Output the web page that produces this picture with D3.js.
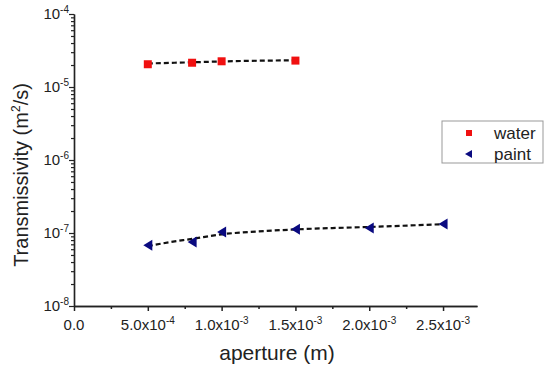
<!DOCTYPE html>
<html><head><meta charset="utf-8">
<script src="https://cdn.jsdelivr.net/npm/d3@7"></script>
<style>
body{margin:0;background:#fff;}
text{font-family:"Liberation Sans",Arial,sans-serif;fill:#222;}
</style></head>
<body><svg id="c" width="550" height="369"></svg>
<script>
const waterX = [5e-4, 8e-4, 1e-3, 1.5e-3];
const waterY = [2.05e-5, 2.15e-5, 2.25e-5, 2.3e-5];
const paintX = [5e-4, 8e-4, 1e-3, 1.5e-3, 2e-3, 2.5e-3];
const paintY = [6.8e-8, 7.5e-8, 1.03e-7, 1.13e-7, 1.17e-7, 1.33e-7];
const waterFitX = [5e-4, 8e-4, 1e-3, 1.5e-3];
const waterFitY = [2.1e-5, 2.18e-5, 2.24e-5, 2.32e-5];
const paintFitX = [5e-4, 6.5e-4, 8e-4, 1e-3, 1.25e-3, 1.5e-3, 2e-3, 2.5e-3];
const paintFitY = [6.6e-8, 7.5e-8, 8.3e-8, 9.6e-8, 1.05e-7, 1.12e-7, 1.21e-7, 1.32e-7];
const xTicks = [0, 5e-4, 1e-3, 1.5e-3, 2e-3, 2.5e-3];
const xTickMant = ["0.0", "5.0x10", "1.0x10", "1.5x10", "2.0x10", "2.5x10"];
const xTickExp = ["", "-4", "-3", "-3", "-3", "-3"];
const yTicks = [1e-8, 1e-7, 1e-6, 1e-5, 1e-4];
const yTickExp = ["-8", "-7", "-6", "-5", "-4"];
const seriesNames = ["water", "paint"];

const svg = d3.select("#c");
const x = d3.scaleLinear().domain([0, 2.73e-3]).range([74, 477]);
const y = d3.scaleLog().domain([1e-8, 1e-4]).range([306, 14]);

const yMinor = [];
for (let e = -8; e < -4; e++) for (let k = 2; k <= 9; k++) yMinor.push(k * Math.pow(10, e));
const xMinor = [];
for (let v = 2.5e-4; v < 2.73e-3; v += 5e-4) xMinor.push(v);

const gx = svg.append("g").attr("transform", "translate(0,306)");
gx.call(d3.axisBottom(x).tickValues(xTicks).tickSize(5).tickFormat("").tickSizeOuter(0));
gx.append("g").call(d3.axisBottom(x).tickValues(xMinor).tickSize(3).tickFormat("").tickSizeOuter(0));
gx.selectAll("path,line").attr("stroke", "#222").attr("stroke-width", 1.5);

const gy = svg.append("g").attr("transform", "translate(74,0)");
gy.call(d3.axisLeft(y).tickValues(yTicks).tickSize(5).tickFormat("").tickSizeOuter(0));
gy.append("g").call(d3.axisLeft(y).tickValues(yMinor).tickSize(3).tickFormat("").tickSizeOuter(0));
gy.selectAll("path,line").attr("stroke", "#222").attr("stroke-width", 1.2);
gy.select("path.domain").attr("stroke-width", 1.5);

xTicks.forEach((v, i) => {
  const t = svg.append("text").attr("x", x(v)).attr("y", 330).attr("text-anchor", "middle").attr("font-size", 15);
  t.append("tspan").text(xTickMant[i]);
  if (xTickExp[i]) t.append("tspan").attr("dy", -6).attr("font-size", 10).text(xTickExp[i]);
});
yTicks.forEach((v, i) => {
  const t = svg.append("text").attr("x", 69).attr("y", y(v) + 5).attr("text-anchor", "end").attr("font-size", 15);
  t.append("tspan").text("10");
  t.append("tspan").attr("dy", -6).attr("font-size", 10).text(yTickExp[i]);
});

svg.append("text").attr("x", 277).attr("y", 360).attr("text-anchor", "middle").attr("font-size", 21).text("aperture (m)");
const yt = svg.append("text").attr("transform", "translate(28,175) rotate(-90)").attr("text-anchor", "middle").attr("font-size", 20);
yt.append("tspan").text("Transmissivity (m");
yt.append("tspan").attr("dy", -8).attr("font-size", 12).text("2");
yt.append("tspan").attr("dy", 8).text("/s)");

const line = d3.line().x(d => x(d[0])).y(d => y(d[1])).curve(d3.curveMonotoneX);
svg.append("path").datum(waterFitX.map((v, i) => [v, waterFitY[i]])).attr("d", line)
  .attr("fill", "none").attr("stroke", "#111").attr("stroke-width", 2.2).attr("stroke-dasharray", "5,3");
svg.append("path").datum(paintFitX.map((v, i) => [v, paintFitY[i]])).attr("d", line)
  .attr("fill", "none").attr("stroke", "#111").attr("stroke-width", 2.2).attr("stroke-dasharray", "5,3");

const sq = 8;
svg.selectAll("rect.w").data(waterX.map((v, i) => [v, waterY[i]])).enter().append("rect")
  .attr("x", d => x(d[0]) - sq / 2).attr("y", d => y(d[1]) - sq / 2).attr("width", sq).attr("height", sq)
  .attr("fill", "#f01010");
const tri = "M-4.5,0L4.5,-5.5L4.5,5.5Z";
svg.selectAll("path.p").data(paintX.map((v, i) => [v, paintY[i]])).enter().append("path")
  .attr("d", tri).attr("transform", d => `translate(${x(d[0])},${y(d[1])})`).attr("fill", "#0a0a80");

svg.append("rect").attr("x", 442).attr("y", 121).attr("width", 101).attr("height", 42)
  .attr("fill", "#fff").attr("stroke", "#999").attr("stroke-width", 1);
svg.append("rect").attr("x", 469 - 3).attr("y", 133 - 3).attr("width", 6).attr("height", 6).attr("fill", "#f01010");
svg.append("path").attr("d", "M-4,0L3,-4L3,4Z").attr("transform", "translate(469,154)").attr("fill", "#0a0a80");
svg.append("text").attr("x", 494).attr("y", 139).attr("font-size", 17).text(seriesNames[0]);
svg.append("text").attr("x", 494).attr("y", 160).attr("font-size", 17).text(seriesNames[1]);
</script></body></html>
